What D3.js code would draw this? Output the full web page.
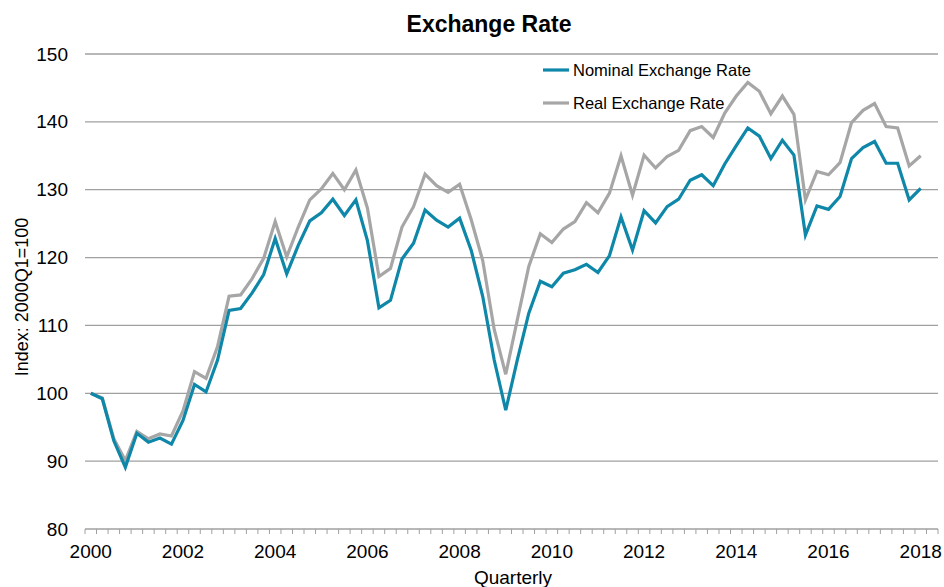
<!DOCTYPE html>
<html><head><meta charset="utf-8">
<script src="https://cdn.jsdelivr.net/npm/d3@7"></script>
<style>body{margin:0;background:#fff}svg{display:block;font-family:"Liberation Sans",Arial,sans-serif}</style>
</head><body><svg id="c" width="944" height="587"></svg>
<script>
const years = d3.range(2000, 2019);
const quarters = [];
years.forEach(y => [1,2,3,4].forEach(q => quarters.push(y + "Q" + q)));
const categories = quarters.slice(0, 74); // 2000Q1 .. 2018Q2 (last slot empty)
const nominal = [100,99.2,93,89.1,94.1,92.8,93.4,92.5,96,101.3,100.2,104.9,112.2,112.5,114.8,117.5,122.8,117.6,121.8,125.4,126.6,128.6,126.2,128.5,122.5,112.6,113.7,119.8,122.1,127,125.5,124.5,125.8,121.1,114.3,104.9,97.5,104.9,111.8,116.5,115.7,117.7,118.2,119,117.8,120.3,126,121.1,126.9,125.1,127.5,128.6,131.4,132.2,130.6,133.8,136.5,139.1,137.9,134.6,137.3,135.1,123.3,127.6,127.1,129,134.6,136.2,137.1,133.9,133.9,128.5,130.2];
const real = [100,99.3,93.3,90.1,94.4,93.3,94,93.7,97.4,103.2,102.2,106.9,114.3,114.5,116.9,119.9,125.3,120.1,124.5,128.5,130.1,132.4,130,132.9,127.3,117.2,118.4,124.5,127.5,132.3,130.6,129.6,130.8,125.6,119.6,109.4,102.8,110.8,118.7,123.5,122.2,124.2,125.3,128.1,126.6,129.5,135,129.2,135.1,133.2,134.9,135.8,138.7,139.3,137.7,141.3,143.8,145.8,144.5,141.2,143.8,141.1,128.5,132.7,132.2,134,139.9,141.7,142.7,139.3,139.1,133.5,135];
const yTicks = [80,90,100,110,120,130,140,150];
const yearLabels = ["2000","2002","2004","2006","2008","2010","2012","2014","2016","2018"];
const seriesNames = ["Nominal Exchange Rate","Real Exchange Rate"];
const colors = ["#0e87a9","#a6a6a6"];

const svg = d3.select("#c");
const L = 85, R = 938, T = 54, B = 529;
const x = d3.scaleBand().domain(categories).range([L, R]).paddingInner(0).paddingOuter(0);
const y = d3.scaleLinear().domain([80,150]).range([B, T]);
const cx = c => x(c) + x.bandwidth()/2;

// gridlines
svg.append("g").selectAll("line").data(yTicks.filter(v => v > 80)).join("line")
  .attr("x1", L).attr("x2", R).attr("y1", d => y(d)).attr("y2", d => y(d))
  .attr("stroke", "#a0a0a0").attr("stroke-width", 1.3);

// y axis labels
const ya = svg.append("g").attr("transform", `translate(${L},0)`)
  .call(d3.axisLeft(y).tickValues(yTicks).tickSize(0).tickPadding(17));
ya.select(".domain").remove();
ya.selectAll("text").attr("font-size", 19).attr("fill", "#000").attr("font-family", "Liberation Sans, Arial, sans-serif");

// x axis
const xa = svg.append("g").attr("transform", `translate(0,${B})`);
xa.append("line").attr("x1", L).attr("x2", R).attr("stroke", "#a0a0a0").attr("stroke-width", 1.3);
const bounds = categories.map(c => x(c)).concat([R]);
xa.selectAll("line.t").data(bounds).join("line").attr("class","t")
  .attr("x1", d => d).attr("x2", d => d).attr("y1", 0).attr("y2", 5)
  .attr("stroke", "#a0a0a0").attr("stroke-width", 1);
xa.selectAll("text").data(yearLabels).join("text")
  .attr("x", d => cx(d + "Q1")).attr("y", 29).attr("text-anchor", "middle")
  .attr("font-size", 19).attr("fill", "#000").text(d => d);

// lines
const line = d3.line().x((d,i) => cx(categories[i])).y(d => y(d));
[real, nominal].forEach((s, k) => {
  svg.append("path").datum(s).attr("d", line).attr("fill", "none")
    .attr("stroke", k === 0 ? colors[1] : colors[0]).attr("stroke-width", 3.2)
    .attr("stroke-linejoin", "miter");
});

// title
svg.append("text").attr("x", 489).attr("y", 32).attr("text-anchor", "middle")
  .attr("font-size", 23).attr("font-weight", "bold").text("Exchange Rate");
svg.append("text").attr("x", 513).attr("y", 584).attr("text-anchor", "middle")
  .attr("font-size", 19).text("Quarterly");
svg.append("text").attr("transform", "translate(28,297) rotate(-90)").attr("text-anchor", "middle")
  .attr("font-size", 18).text("Index: 2000Q1=100");

// legend
const lg = svg.append("g");
seriesNames.forEach((n, i) => {
  const ly = 70 + i * 33;
  lg.append("line").attr("x1", 543).attr("x2", 569).attr("y1", ly).attr("y2", ly)
    .attr("stroke", colors[i]).attr("stroke-width", 3.2);
  lg.append("text").attr("x", 573).attr("y", ly + 6).attr("font-size", 16.5).text(n);
});
</script></body></html>
